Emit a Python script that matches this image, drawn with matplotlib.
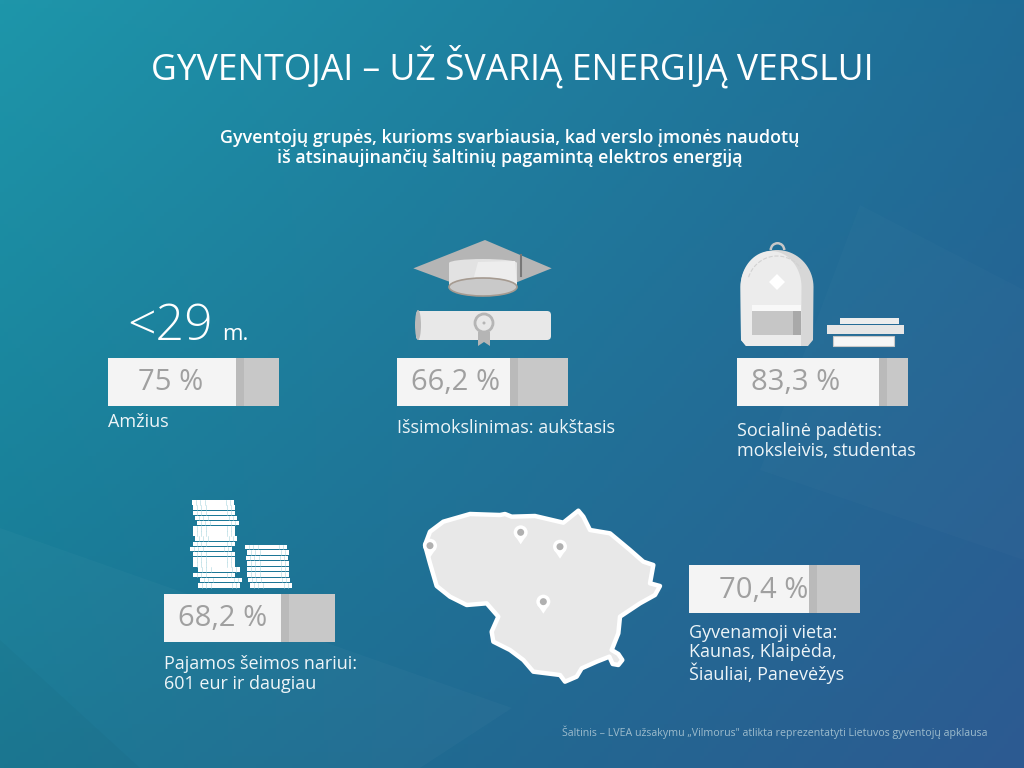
import numpy as np
import matplotlib
matplotlib.use("Agg")
import matplotlib.pyplot as plt
from matplotlib.patches import Rectangle, Polygon, Ellipse, Circle, FancyBboxPatch, Wedge

plt.rcParams['font.family'] = ['Open Sans', 'DejaVu Sans']

# data
values = [75, 66.2, 83.3, 68.2, 70.4]
value_labels = ["75 %", "66,2 %", "83,3 %", "68,2 %", "70,4 %"]
captions = ["Amžius", "Išsimokslinimas: aukštasis",
            "Socialinė padėtis:\nmoksleivis, studentas",
            "Pajamos šeimos nariui:\n601 eur ir daugiau",
            "Gyvenamoji vieta:\nKaunas, Klaipėda,\nŠiauliai, Panevėžys"]
title = "GYVENTOJAI – UŽ ŠVARIĄ ENERGIJĄ VERSLUI"
subtitle = "Gyventojų grupės, kurioms svarbiausia, kad verslo įmonės naudotų\niš atsinaujinančių šaltinių pagamintą elektros energiją"
source = "Šaltinis – LVEA užsakymu „Vilmorus\" atlikta reprezentatyti Lietuvos gyventojų apklausa"

# layout, in pixels of the 1024x768 picture
bar_x = [108, 397, 737, 164, 689]
bar_y = [358, 358, 358, 594, 565]
bar_w, bar_h = 171, 48
label_x = [138, 411, 751, 178, 719]
caption_y = [422, 428, 441, 674, 654]
coin_left_1 = [198, 200, 193, 198, 193, 193, 193, 190, 193, 195, 193, 193, 197, 195, 193, 193, 192]
coin_left_2 = [250, 248, 247, 247, 247, 246, 247, 245]

fig = plt.figure(figsize=(10.24, 7.68), dpi=100)
ax = fig.add_axes([0, 0, 1, 1])
ax.set_xlim(0, 1024)
ax.set_ylim(768, 0)
ax.axis("off")

# background gradient from the four corners
tl, tr = np.array([30, 150, 170]), np.array([31, 108, 150])
bl, br = np.array([23, 118, 146]), np.array([45, 90, 145])
u, v = np.meshgrid(np.linspace(0, 1, 256), np.linspace(0, 1, 192))
u, v = u[..., None], v[..., None]
bg = (tl * (1 - u) + tr * u) * (1 - v) + (bl * (1 - u) + br * u) * v
ax.imshow(bg / 255, extent=(0, 1024, 768, 0), aspect="auto", zorder=0)
ax.add_patch(Polygon([(0, 528), (512, 708), (420, 768), (0, 768)], fc="white", alpha=0.025, ec="none"))
ax.add_patch(Polygon([(0, 640), (140, 768), (0, 768)], fc="black", alpha=0.025, ec="none"))
ax.add_patch(Polygon([(860, 205), (1024, 290), (1024, 560), (760, 470)], fc="white", alpha=0.015, ec="none"))

ax.text(512, 67, title, color="white", fontsize=25.6, ha="center", va="center")
ax.text(510, 148, subtitle, color="white", fontsize=12.9, fontweight="semibold", ha="center", va="center", linespacing=1.12)
ax.text(988, 732, source, color="#9dbccd", fontsize=7.65, ha="right", va="center")

# bars
for i in range(len(values)):
    x, y = bar_x[i], bar_y[i]
    split = bar_w * values[i] / 100
    ax.add_patch(Rectangle((x, y), bar_w, bar_h, fc="#c8c8c8", ec="none", zorder=2))
    ax.add_patch(Rectangle((x + split, y), 8, bar_h, fc="#bababa", ec="none", zorder=2))
    ax.add_patch(Rectangle((x, y), split, bar_h, fc="#f4f4f4", ec="none", zorder=3))
    ax.text(label_x[i], y + bar_h / 2 + 1, value_labels[i], color="#a0a0a0", fontsize=21,
            ha="left", va="center", zorder=4)
    ax.text(x, caption_y[i], captions[i], color="#eef5f8", fontsize=13, ha="left", va="center",
            linespacing=1.08, zorder=4)

# <29 m.
ax.text(127, 340, "<29", color="white", fontsize=36, ha="left", va="baseline", fontweight="light")
ax.text(222, 340, "m.", color="white", fontsize=16, ha="left", va="baseline")

# hat
def p(zx, zy, ox, oy):
    return (ox + zx / 3, oy + zy / 3)

ax.add_patch(Polygon([p(940, 115, 100, 230), p(1155, 30, 100, 230), p(1355, 115, 100, 230), p(1155, 195, 100, 230)],
                     fc="#b5b5b5", ec="none", zorder=2))
ax.add_patch(Rectangle((449, 263), 68, 23, fc="#e2e2e2", ec="none", zorder=3))
ax.add_patch(Ellipse((483, 263), 68, 8, fc="#e2e2e2", ec="none", zorder=3))
ax.add_patch(Polygon([(478, 262), (515, 261), (517, 284), (472, 284)], fc="#ededed", ec="none", zorder=3))
ax.add_patch(Ellipse((483, 287), 68, 18, fc="#c9c9c9", ec="#a59a90", lw=1.2, zorder=4))
ax.plot([521, 521], [255, 276], color="#777777", lw=1.5, zorder=5)

# scroll
ax.add_patch(FancyBboxPatch((416, 311), 135, 29, boxstyle="round,pad=0,rounding_size=4", fc="#e8e8e8", ec="none", zorder=2))
ax.add_patch(Ellipse((418, 325), 6, 30, fc="#b9b9b9", ec="none", zorder=3))
ax.add_patch(Polygon([(478, 332), (490, 332), (490, 346), (484, 342), (478, 346)], fc="#b5b5b5", ec="none", zorder=3))
ax.add_patch(Circle((484, 323), 9, fc="#e8e8e8", ec="#b5b5b5", lw=2, zorder=4))
ax.add_patch(Circle((484, 323), 1.5, fc="#b5b5b5", ec="none", zorder=5))

# backpack
ax.add_patch(Wedge((777.5, 250), 8, 180, 360, width=2.5, fc="#c8c8c8", ec="none", zorder=2))
t = np.linspace(np.pi, 2 * np.pi, 40)
top = np.column_stack([777 + 36.5 * np.cos(t), 287 + 37 * np.sin(t)])
body = np.vstack([top, [(813, 340), (808, 346), (746, 346), (741, 340)]])
ax.add_patch(Polygon(body, fc="#d7d7d7", ec="none", zorder=2))
front_top = np.column_stack([771 + 30.5 * np.cos(t), 287 + 36 * np.sin(t)])
ax.add_patch(Polygon(np.vstack([front_top, [(801, 346), (746, 346), (741, 340)]]), fc="#ececec", ec="none", zorder=3))
seam = np.column_stack([777 + 30 * np.cos(t[4:-8]), 287 + 31 * np.sin(t[4:-8])])
ax.plot(seam[:, 0], seam[:, 1], color="#d2d2d2", lw=0.8, ls="--", zorder=4)
ax.add_patch(Polygon([(777, 274), (785, 282), (777, 290), (769, 282)], fc="white", ec="none", zorder=4))
ax.add_patch(Rectangle((752, 305), 49, 6, fc="#f8f8f8", ec="none", zorder=4))
ax.add_patch(Rectangle((752, 311), 41, 24, fc="#c6c6c6", ec="none", zorder=4))
ax.add_patch(Rectangle((793, 311), 8, 24, fc="#a9a9a9", ec="none", zorder=4))

# books
ax.add_patch(Rectangle((840, 318), 59, 6, fc="#ededed", ec="none", zorder=2))
ax.add_patch(Rectangle((827, 325), 77, 9, fc="#e6e6e6", ec="none", zorder=2))
ax.add_patch(Rectangle((833, 336), 61, 10, fc="#f6f6f6", ec="#c8c8c8", lw=0.8, zorder=2))

# coins
def coins(lefts):
    for n, left in enumerate(lefts):
        yy = 583 - n * (5.17 if len(lefts) > 10 else 5.5)
        ax.add_patch(Rectangle((left, yy), 42, 4.5, fc="white", ec="none", zorder=2))
        for dx in [4, 8, 13, 34, 38]:
            ax.plot([left + dx, left + dx], [yy, yy + 4.5], color="#a8d4de", lw=0.4, zorder=3)

coins(coin_left_1)
coins(coin_left_2)

# map
outline = [(45, 135), (60, 95), (100, 65), (180, 42), (270, 45), (285, 42), (305, 50), (375, 48), (460, 68), (505, 32),
           (520, 50), (540, 90), (600, 100), (660, 150), (700, 185), (730, 195), (720, 250), (750, 258), (735, 285),
           (690, 310), (630, 350), (625, 400), (605, 450), (625, 462), (637, 480), (625, 495), (608, 492), (598, 470),
           (560, 485), (515, 505), (500, 530), (465, 545), (450, 525), (370, 515), (340, 480), (300, 450), (250, 425),
           (245, 395), (265, 350), (230, 310), (170, 315), (120, 290), (80, 258), (60, 190)]
ax.add_patch(Polygon([p(a, b, 410, 500) for a, b in outline], closed=True, fc="#e8e8e8", ec="white", lw=3.2,
                     joinstyle="round", zorder=2))
for a, b in [(332, 97), (450, 140), (400, 305), (60, 137)]:
    px, py = p(a, b, 410, 500)
    ax.add_patch(Polygon([(px - 6, py + 3), (px, py + 12), (px + 6, py + 3)], fc="white", ec="none", zorder=3))
    ax.add_patch(Circle((px, py), 7, fc="white", ec="none", zorder=3))
    ax.add_patch(Circle((px, py), 3.5, fc="#b0b0b0", ec="none", zorder=4))

fig.savefig("out.png", dpi=100)
